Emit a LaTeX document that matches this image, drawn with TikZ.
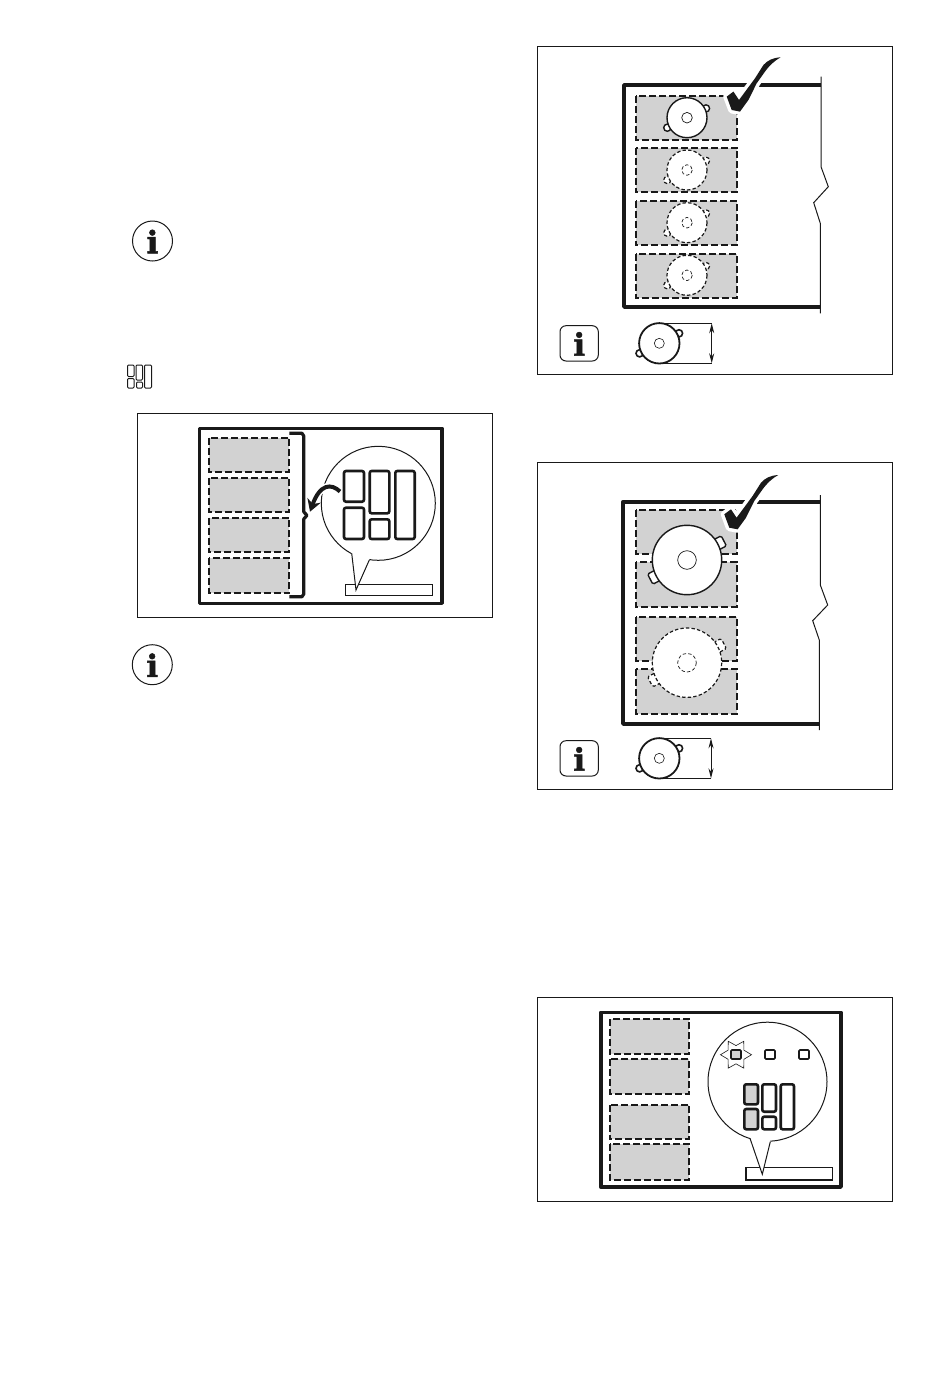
\documentclass[tikz,border=0pt]{standalone}
\usepackage{fontspec}
\usepackage{xcolor}
\usepackage{tikz}
\usetikzlibrary{
    positioning,
    arrows.meta,
    shapes.geometric
}
\newfontfamily\infofont[BoldFeatures={FakeBold=1.5}]{DejaVu Serif}
\definecolor{printGray}{RGB}{210, 210, 210}
\definecolor{printInk}{RGB}{25, 25, 25}
\tikzset{
    panelbox/.style={draw=printInk, line width=0.9pt},
    hobline/.style={draw=printInk, line width=3.6pt, line join=round},
    edgeline/.style={draw=printInk, line width=1pt},
    zonebox/.style={draw=printInk, fill=printGray, line width=2pt, dash pattern=on 7pt off 3pt},
    keybox/.style={draw=printInk, fill=white, line width=2.6pt, rounded corners=2pt},
    keyon/.style={keybox, fill=printGray},
    potline/.style={draw=printInk, fill=white, line width=1.4pt},
    potdash/.style={draw=printInk, fill=white, line width=1.2pt, dash pattern=on 3.4pt off 2.2pt},
    infotext/.style={inner sep=0pt, font=\infofont\bfseries\fontsize{31}{31}\selectfont},
    pics/smallpot/.style={code={
        \draw[#1] (19,-9.3) circle (3.6);
        \draw[#1] (-19.7,10) circle (3.6);
        \draw[#1] (0,0) circle (20);
        \draw[#1, line width=0.7pt] (0,0) circle (5.3);
    }},
    pics/largepot/.style={code={
        \draw[#1, rounded corners=1.5pt, rotate=27.5] (32,-5.7) rectangle (41.5,5.7);
        \draw[#1, rounded corners=1.5pt, rotate=207.5] (32,-5.7) rectangle (41.5,5.7);
        \draw[#1] (0,0) circle (34.7);
        \draw[#1, line width=0.7pt] (0,0) circle (9.3);
    }},
    pics/sizepot/.style={code={
        \draw[draw=printInk, fill=white, line width=1.6pt] (19.7,-10) circle (3.6);
        \draw[draw=printInk, fill=white, line width=1.6pt] (-19.7,10) circle (3.6);
        \draw[draw=printInk, fill=white, line width=1.8pt] (0,0) circle (20.2);
        \draw[draw=printInk, line width=0.6pt] (0,0) circle (5);
    }},
    pics/tickmark/.style={code={
        \draw[draw=white, fill=white, line width=7pt, line join=round]
            (0,0) -- (-9,1) -- (-17.3,7.7) -- (-25.7,21) -- (-41.7,42.7) -- (-47.3,34.3) -- (-54,39.3)
            -- (-49,52.7) -- (-40.7,54.3) -- (-32.3,42.7) -- (-24,26) -- (-15.7,14.3) -- (-9,6) -- cycle;
        \fill[printInk] (0,0) .. controls (-8,0.5) and (-13,3) .. (-17.3,7.7) -- (-25.7,21) -- (-41.7,42.7)
            -- (-47.3,34.3) -- (-54,39.3)
            -- (-49,52.7) -- (-40.7,54.3) -- (-32.3,42.7) -- (-24,26) -- (-15.7,14.3) .. controls (-11,8) and (-7,4) .. (0,0) -- cycle;
    }}
}

\begin{document}
\begin{tikzpicture}[x=1pt, y=-1pt, >=stealth]
    \useasboundingbox (0,0) rectangle (950,1374);
    \fill[white] (0,0) rectangle (950,1374);

    % loose info signs and key symbol
    \draw[edgeline] (152.5,241) circle (20);
    \node[infotext, printInk] (infoTop) at (152.5,241.5) {i};
    \draw[edgeline] (152.3,664.7) circle (20);
    \node[infotext, printInk] (infoMid) at (152.3,665.2) {i};
    \foreach \xa/\ya/\xb/\yb in {127.5/365/134/376.5, 127.5/378.5/134/388, 136/365/142.5/380, 136.5/382/142.5/388, 144.5/365/151.5/388}
        \draw[edgeline, rounded corners=1pt] (\xa,\ya) rectangle (\xb,\yb);

    % panel with bracket and callout
    \draw[panelbox] (137.3,413.7) rectangle (492.3,617.3);
    \draw[hobline] (199.3,428.3) rectangle (441.7,603.3);
    \foreach \ya/\yb in {437.7/471.7, 477.7/511.7, 517.7/552.3, 557.7/593}
        \draw[zonebox] (209,\ya) rectangle (289.3,\yb);
    \draw[draw=printInk, line width=3.2pt, line join=round] (289.3,433.3) -- (302,433.3) -- (303.8,436) -- (303.8,512) -- (307,515.3) -- (303.8,519) -- (303.8,594) -- (302,596.7) -- (289.3,596.7);
    \draw[edgeline, fill=white, line width=0.9pt] (345,584) rectangle (432.3,595);
    \coordinate (bubbleA) at (378.3,503.3);
    \coordinate (tipLeftA) at (351.7,553.3);
    \coordinate (tipA) at (356,590);
    \coordinate (tipRightA) at (369.3,560);
    \draw[edgeline, fill=white] (bubbleA) circle (57);
    \fill[white] (bubbleA) -- (tipLeftA) -- (tipA) -- (tipRightA) -- cycle;
    \draw[edgeline] (tipLeftA) -- (tipA) -- (tipRightA);
    \foreach \xa/\ya/\xb/\yb in {344/471/364/501.7, 344/507.7/364/539, 369.7/471/389.3/513.3, 369.7/519.3/389.3/539, 395.3/471/414.7/539}
        \draw[keybox] (\xa,\ya) rectangle (\xb,\yb);
    \coordinate (arrowFrom) at (340,491.5);
    \coordinate (arrowTo) at (310,511.7);
    \draw[draw=white, line width=7pt] (arrowFrom) .. controls (331,483) and (320,484) .. (314,503);
    \draw[draw=printInk, line width=4pt, -{Stealth[length=12pt, width=14pt]}] (arrowFrom) .. controls (331,483) and (320,484) .. (arrowTo);

    % top right panel, small pot
    \draw[panelbox] (537.7,46) rectangle (892.2,374.3);
    \draw[hobline] (821,85) -- (624,85) -- (624,307) -- (821,307);
    \draw[edgeline] (821,76.7) -- (821,166.7) -- (828.3,186.7) -- (813.7,202.7) -- (820.3,223.3) -- (820.3,313.3);
    \foreach \ya/\yb in {96/140, 147.7/192.3, 200.7/245, 253.7/297.7}
        \draw[zonebox] (635.7,\ya) rectangle (737,\yb);
    \pic at (687,117.7) {smallpot=potline};
    \foreach \yp in {170, 222.7, 275.3}
        \pic at (687,\yp) {smallpot=potdash};
    \pic at (780.7,57.3) {tickmark};
    \draw[edgeline, rounded corners=6pt] (560,325.7) rectangle (598.3,361);
    \node[infotext, printInk] (infoA) at (579.3,343.8) {i};
    \coordinate (sizeTopA) at (711.7,323.3);
    \coordinate (sizeLowA) at (711.7,363.3);
    \draw[edgeline] (659.3,323.3) -- (sizeTopA);
    \draw[edgeline] (659.3,363.3) -- (sizeLowA);
    \draw[edgeline, {Stealth[length=10pt, width=5pt]}-{Stealth[length=10pt, width=5pt]}] (sizeTopA) -- (sizeLowA);
    \pic at (659.3,343.3) {sizepot};

    % second right panel, large pot
    \draw[panelbox] (537.7,462.7) rectangle (892.2,789.3);
    \draw[hobline] (820,501.7) -- (623,501.7) -- (623,724) -- (820,724);
    \draw[edgeline] (820.3,495) -- (820.3,585) -- (827.7,605) -- (812.7,620.7) -- (819.3,640) -- (819.3,730);
    \foreach \ya/\yb in {510/554, 562.3/606.7, 616.7/660.7, 669.3/714}
        \draw[zonebox] (635.7,\ya) rectangle (737,\yb);
    \pic at (687,560) {largepot=potline};
    \pic at (687,662.7) {largepot=potdash};
    \pic at (778.3,475) {tickmark};
    \draw[edgeline, rounded corners=6pt] (560,740.7) rectangle (598.3,776);
    \node[infotext, printInk] (infoB) at (579.3,758.8) {i};
    \coordinate (sizeTopB) at (711,738.3);
    \coordinate (sizeLowB) at (711,778.3);
    \draw[edgeline] (659.3,738.3) -- (sizeTopB);
    \draw[edgeline] (659.3,778.3) -- (sizeLowB);
    \draw[edgeline, {Stealth[length=10pt, width=5pt]}-{Stealth[length=10pt, width=5pt]}] (sizeTopB) -- (sizeLowB);
    \pic at (659.3,758.3) {sizepot};

    % bottom right panel with lit keys
    \draw[panelbox] (537.7,997.7) rectangle (892.2,1201);
    \draw[hobline] (600.7,1012.3) rectangle (841,1187);
    \foreach \ya/\yb in {1019/1054.3, 1059.3/1094, 1105/1139.3, 1144.3/1180}
        \draw[zonebox] (609.7,\ya) rectangle (689.3,\yb);
    \draw[edgeline, fill=white, line width=1.4pt] (746,1167.7) rectangle (832.7,1180);
    \coordinate (bubbleB) at (767.5,1081.7);
    \coordinate (tipLeftB) at (750,1138.3);
    \coordinate (tipB) at (762.3,1174.3);
    \coordinate (tipRightB) at (770.3,1141.7);
    \draw[edgeline, fill=white] (bubbleB) circle (59.5);
    \fill[white] (bubbleB) -- (tipLeftB) -- (tipB) -- (tipRightB) -- cycle;
    \draw[edgeline] (tipLeftB) -- (tipB) -- (tipRightB);
    \node[star, star points=6, star point ratio=1.7, shape border rotate=90, minimum size=31pt, inner sep=0pt, draw=printInk, line width=0.6pt] (flash) at (736,1054.7) {};
    \draw[keyon, line width=1.6pt, rounded corners=1pt] (731,1050) rectangle (741,1059);
    \foreach \xa in {765, 799}
        \draw[keybox, line width=1.6pt, rounded corners=1pt] (\xa,1050) rectangle (\xa+10,1059);
    \foreach \ya/\yb in {1084.3/1104.3, 1109/1129.3}
        \draw[keyon] (744.3,\ya) rectangle (758,\yb);
    \foreach \xa/\ya/\xb/\yb in {762.3/1084.3/776/1111.7, 762.3/1116.7/776/1129.3, 780.7/1084.3/794/1129.3}
        \draw[keybox] (\xa,\ya) rectangle (\xb,\yb);
\end{tikzpicture}
\end{document}
